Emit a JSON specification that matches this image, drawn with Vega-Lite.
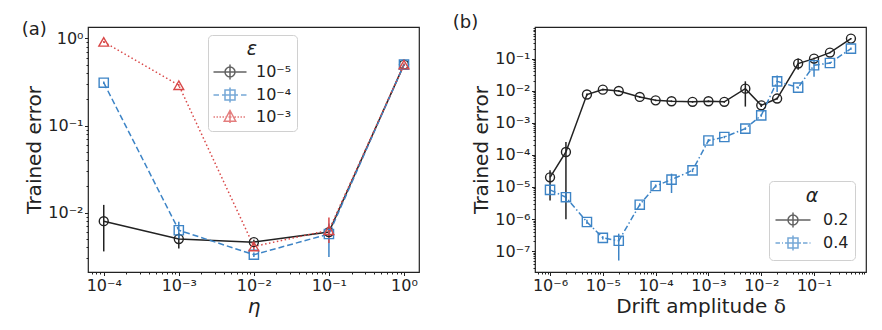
{
  "$schema": "https://vega.github.io/schema/vega-lite/v6.json",
  "padding": {"left": 21, "top": 13, "right": 2, "bottom": 2},
  "spacing": 32,
  "resolve": {"scale": {"color": "independent", "shape": "independent"}, "legend": {"color": "independent", "shape": "independent"}},
  "config": {
    "font": "DejaVu Sans",
    "view": {"stroke": "#222", "strokeWidth": 1.2},
    "axis": {"labelFontSize": 16, "titleFontSize": 20, "titleFontWeight": "normal", "labelColor": "#222", "titleColor": "#222", "tickColor": "#222", "labelPadding": 1.5, "titlePadding": 3, "grid": false, "domain": false, "labelOverlap": false, "labelFlush": false, "tickWidth": 1},
    "legend": {"labelFontSize": 16, "titleFontSize": 19, "titleFontStyle": "italic", "titleFontWeight": "normal", "labelColor": "#222", "titleColor": "#222", "strokeColor": "#d0d0d0", "cornerRadius": 4, "fillColor": "rgba(255,255,255,0.85)", "titleAnchor": "middle", "symbolStrokeWidth": 1.5, "symbolSize": 100, "symbolFillColor": "transparent"}
  },
  "hconcat": [
    {
      "width": 331,
      "height": 245,
      "title": {"text": "(a)", "anchor": "start", "frame": "bounds", "offset": -12, "fontSize": 18, "fontWeight": "normal", "color": "#222", "dx": -3},
      "data": {"values": [
        {"eta": 0.0001, "eps": "10⁻⁵", "y": 0.008, "lo": 0.0036, "hi": 0.0123},
        {"eta": 0.001, "eps": "10⁻⁵", "y": 0.005, "lo": 0.0039, "hi": 0.0058},
        {"eta": 0.01, "eps": "10⁻⁵", "y": 0.0046, "lo": 0.0043, "hi": 0.0049},
        {"eta": 0.1, "eps": "10⁻⁵", "y": 0.006, "lo": 0.0055, "hi": 0.0066},
        {"eta": 1, "eps": "10⁻⁵", "y": 0.5, "lo": 0.49, "hi": 0.51},
        {"eta": 0.0001, "eps": "10⁻⁴", "y": 0.31, "lo": 0.3, "hi": 0.32},
        {"eta": 0.001, "eps": "10⁻⁴", "y": 0.0063, "lo": 0.0051, "hi": 0.0079},
        {"eta": 0.01, "eps": "10⁻⁴", "y": 0.0033, "lo": 0.0031, "hi": 0.0035},
        {"eta": 0.1, "eps": "10⁻⁴", "y": 0.0057, "lo": 0.0031, "hi": 0.0075},
        {"eta": 1, "eps": "10⁻⁴", "y": 0.5, "lo": 0.49, "hi": 0.51},
        {"eta": 0.0001, "eps": "10⁻³", "y": 0.91, "lo": 0.89, "hi": 0.93},
        {"eta": 0.001, "eps": "10⁻³", "y": 0.29, "lo": 0.28, "hi": 0.3},
        {"eta": 0.01, "eps": "10⁻³", "y": 0.0041, "lo": 0.0037, "hi": 0.0045},
        {"eta": 0.1, "eps": "10⁻³", "y": 0.0063, "lo": 0.0045, "hi": 0.0088},
        {"eta": 1, "eps": "10⁻³", "y": 0.5, "lo": 0.49, "hi": 0.51}
      ]},
      "encoding": {
        "x": {"field": "eta", "type": "quantitative", "title": "η",
          "scale": {"type": "log", "domain": [0.0000617, 1.585], "nice": false},
          "axis": {
            "titleFontStyle": "italic",
            "values": [0.00007, 0.00008, 0.00009, 0.0001, 0.0002, 0.0003, 0.0004, 0.0005, 0.0006, 0.0007, 0.0008, 0.0009, 0.001, 0.002, 0.003, 0.004, 0.005, 0.006, 0.007, 0.008, 0.009, 0.01, 0.02, 0.03, 0.04, 0.05, 0.06, 0.07, 0.08, 0.09, 0.1, 0.2, 0.3, 0.4, 0.5, 0.6, 0.7, 0.8, 0.9, 1],
            "labelExpr": "abs(log(datum.value)/LN10 - round(log(datum.value)/LN10)) < 0.000001 ? '10' + ['⁰','⁻¹','⁻²','⁻³','⁻⁴','⁻⁵','⁻⁶','⁻⁷','⁻⁸'][-round(log(datum.value)/LN10)] : ''",
            "tickSize": {"condition": {"test": "abs(log(datum.value)/LN10 - round(log(datum.value)/LN10)) < 0.000001", "value": 3.5}, "value": 2}
          }
        },
        "y": {"field": "y", "type": "quantitative", "title": "Trained error",
          "scale": {"type": "log", "domain": [0.00209, 1.35], "nice": false},
          "axis": {
            "values": [0.003, 0.004, 0.005, 0.006, 0.007, 0.008, 0.009, 0.01, 0.02, 0.03, 0.04, 0.05, 0.06, 0.07, 0.08, 0.09, 0.1, 0.2, 0.3, 0.4, 0.5, 0.6, 0.7, 0.8, 0.9, 1],
            "labelExpr": "abs(log(datum.value)/LN10 - round(log(datum.value)/LN10)) < 0.000001 ? '10' + ['⁰','⁻¹','⁻²','⁻³','⁻⁴','⁻⁵','⁻⁶','⁻⁷','⁻⁸'][-round(log(datum.value)/LN10)] : ''",
            "tickSize": {"condition": {"test": "abs(log(datum.value)/LN10 - round(log(datum.value)/LN10)) < 0.000001", "value": 3.5}, "value": 2}
          }
        },
        "color": {"field": "eps", "type": "nominal", "title": "ε",
          "scale": {"domain": ["10⁻⁵", "10⁻⁴", "10⁻³"], "range": ["#222222", "#3d84c6", "#d94848"]},
          "legend": {"orient": "none", "legendX": 120, "legendY": 8, "padding": 5, "titlePadding": 5, "rowPadding": 1, "symbolOffset": 9, "labelOffset": 18}
        }
      },
      "layer": [
        {
          "transform": [{"filter": "false"}],
          "mark": {"type": "point", "filled": false},
          "encoding": {
            "shape": {"field": "eps", "type": "nominal", "title": "ε",
              "scale": {"domain": ["10⁻⁵", "10⁻⁴", "10⁻³"], "range": [
                "M-3.3,0H3.3M0,-1.5V1.5M1,0A1,1,0,1,0,-1,0A1,1,0,1,0,1,0",
                "M-3.3,0H-2.2M-1.6,0H1.6M2.2,0H3.3M0,-1.5V1.5M-1,-1H1V1H-1Z",
                "M-3.3,0h0.3M-2.7,0h0.3M-2.1,0h0.3M-1.5,0h0.3M-0.9,0h0.3M-0.3,0h0.6M0.9,0h0.3M1.5,0h0.3M2.1,0h0.3M2.7,0h0.3M0,-1.4V1.2M0,-1.3L1.15,0.85H-1.15Z"
              ]},
              "legend": {"orient": "none", "legendX": 120, "legendY": 8, "padding": 5, "titlePadding": 5, "rowPadding": 1, "symbolOffset": 9, "labelOffset": 18}
            }
          }
        },
        {"transform": [{"filter": "datum.eps == '10⁻⁵'"}], "mark": {"type": "line", "strokeWidth": 1.5}},
        {"transform": [{"filter": "datum.eps == '10⁻⁴'"}], "mark": {"type": "line", "strokeWidth": 1.5, "strokeDash": [6, 3]}},
        {"transform": [{"filter": "datum.eps == '10⁻³'"}], "mark": {"type": "line", "strokeWidth": 1.5, "strokeDash": [1.5, 2.5]}},
        {
          "mark": {"type": "rule", "strokeWidth": 1.5},
          "encoding": {
            "y": {"field": "lo", "type": "quantitative", "title": "Trained error"},
            "y2": {"field": "hi"}
          }
        },
        {"transform": [{"filter": "datum.eps == '10⁻⁵'"}], "mark": {"type": "point", "shape": "circle", "filled": false, "strokeWidth": 1.4, "size": 80, "opacity": 1}},
        {"transform": [{"filter": "datum.eps == '10⁻⁴'"}], "mark": {"type": "point", "shape": "square", "filled": false, "strokeWidth": 1.4, "size": 85, "opacity": 1}},
        {"transform": [{"filter": "datum.eps == '10⁻³'"}], "mark": {"type": "point", "shape": "triangle-up", "filled": false, "strokeWidth": 1.4, "size": 95, "opacity": 1}}
      ]
    },
    {
      "width": 331,
      "height": 245,
      "title": {"text": "(b)", "anchor": "start", "frame": "bounds", "offset": -12, "fontSize": 18, "fontWeight": "normal", "color": "#222", "dx": -19},
      "data": {"values": [
        {"d": 0.000001, "alpha": "0.2", "y": 0.00002, "lo": 0.0000038, "hi": 0.000033},
        {"d": 0.000002, "alpha": "0.2", "y": 0.000123, "lo": 0.00000098, "hi": 0.00025},
        {"d": 0.000005, "alpha": "0.2", "y": 0.0076, "lo": 0.007, "hi": 0.0082},
        {"d": 0.00001, "alpha": "0.2", "y": 0.0108, "lo": 0.0102, "hi": 0.0114},
        {"d": 0.00002, "alpha": "0.2", "y": 0.0098, "lo": 0.0093, "hi": 0.0103},
        {"d": 0.00005, "alpha": "0.2", "y": 0.0064, "lo": 0.006, "hi": 0.0068},
        {"d": 0.0001, "alpha": "0.2", "y": 0.005, "lo": 0.0047, "hi": 0.0053},
        {"d": 0.0002, "alpha": "0.2", "y": 0.0047, "lo": 0.0044, "hi": 0.005},
        {"d": 0.0005, "alpha": "0.2", "y": 0.0045, "lo": 0.0042, "hi": 0.0048},
        {"d": 0.001, "alpha": "0.2", "y": 0.0047, "lo": 0.0044, "hi": 0.005},
        {"d": 0.002, "alpha": "0.2", "y": 0.0045, "lo": 0.0042, "hi": 0.0048},
        {"d": 0.005, "alpha": "0.2", "y": 0.0116, "lo": 0.0032, "hi": 0.0196},
        {"d": 0.01, "alpha": "0.2", "y": 0.0035, "lo": 0.0031, "hi": 0.0039},
        {"d": 0.02, "alpha": "0.2", "y": 0.0057, "lo": 0.0053, "hi": 0.0061},
        {"d": 0.05, "alpha": "0.2", "y": 0.07, "lo": 0.045, "hi": 0.1},
        {"d": 0.1, "alpha": "0.2", "y": 0.1, "lo": 0.094, "hi": 0.106},
        {"d": 0.2, "alpha": "0.2", "y": 0.154, "lo": 0.146, "hi": 0.162},
        {"d": 0.5, "alpha": "0.2", "y": 0.42, "lo": 0.4, "hi": 0.44},
        {"d": 0.000001, "alpha": "0.4", "y": 0.0000081, "lo": 0.000006, "hi": 0.000011},
        {"d": 0.000002, "alpha": "0.4", "y": 0.0000048, "lo": 0.0000035, "hi": 0.0000065},
        {"d": 0.000005, "alpha": "0.4", "y": 0.00000081, "lo": 0.0000007, "hi": 0.00000095},
        {"d": 0.00001, "alpha": "0.4", "y": 0.00000026, "lo": 0.00000023, "hi": 0.00000029},
        {"d": 0.00002, "alpha": "0.4", "y": 0.00000021, "lo": 0.000000051, "hi": 0.00000035},
        {"d": 0.00005, "alpha": "0.4", "y": 0.0000028, "lo": 0.0000025, "hi": 0.0000031},
        {"d": 0.0001, "alpha": "0.4", "y": 0.0000107, "lo": 0.0000095, "hi": 0.000012},
        {"d": 0.0002, "alpha": "0.4", "y": 0.000017, "lo": 0.0000065, "hi": 0.000026},
        {"d": 0.0005, "alpha": "0.4", "y": 0.000033, "lo": 0.000029, "hi": 0.000037},
        {"d": 0.001, "alpha": "0.4", "y": 0.00028, "lo": 0.00025, "hi": 0.00031},
        {"d": 0.002, "alpha": "0.4", "y": 0.00036, "lo": 0.00033, "hi": 0.00039},
        {"d": 0.005, "alpha": "0.4", "y": 0.00066, "lo": 0.0006, "hi": 0.00072},
        {"d": 0.01, "alpha": "0.4", "y": 0.0017, "lo": 0.00155, "hi": 0.00185},
        {"d": 0.02, "alpha": "0.4", "y": 0.0196, "lo": 0.0091, "hi": 0.03},
        {"d": 0.05, "alpha": "0.4", "y": 0.0125, "lo": 0.0115, "hi": 0.0135},
        {"d": 0.1, "alpha": "0.4", "y": 0.062, "lo": 0.027, "hi": 0.089},
        {"d": 0.2, "alpha": "0.4", "y": 0.073, "lo": 0.068, "hi": 0.078},
        {"d": 0.5, "alpha": "0.4", "y": 0.205, "lo": 0.19, "hi": 0.22}
      ]},
      "encoding": {
        "x": {"field": "d", "type": "quantitative", "title": "Drift amplitude δ",
          "scale": {"type": "log", "domain": [0.000000519, 0.964], "nice": false},
          "axis": {
            "values": [0.0000006, 0.0000007, 0.0000008, 0.0000009, 0.000001, 0.000002, 0.000003, 0.000004, 0.000005, 0.000006, 0.000007, 0.000008, 0.000009, 0.00001, 0.00002, 0.00003, 0.00004, 0.00005, 0.00006, 0.00007, 0.00008, 0.00009, 0.0001, 0.0002, 0.0003, 0.0004, 0.0005, 0.0006, 0.0007, 0.0008, 0.0009, 0.001, 0.002, 0.003, 0.004, 0.005, 0.006, 0.007, 0.008, 0.009, 0.01, 0.02, 0.03, 0.04, 0.05, 0.06, 0.07, 0.08, 0.09, 0.1, 0.2, 0.3, 0.4, 0.5, 0.6, 0.7, 0.8, 0.9],
            "labelExpr": "abs(log(datum.value)/LN10 - round(log(datum.value)/LN10)) < 0.000001 ? '10' + ['⁰','⁻¹','⁻²','⁻³','⁻⁴','⁻⁵','⁻⁶','⁻⁷','⁻⁸'][-round(log(datum.value)/LN10)] : ''",
            "tickSize": {"condition": {"test": "abs(log(datum.value)/LN10 - round(log(datum.value)/LN10)) < 0.000001", "value": 3.5}, "value": 2}
          }
        },
        "y": {"field": "y", "type": "quantitative", "title": "Trained error",
          "scale": {"type": "log", "domain": [0.0000000224, 0.966], "nice": false},
          "axis": {
            "values": [0.00000003, 0.00000004, 0.00000005, 0.00000006, 0.00000007, 0.00000008, 0.00000009, 0.0000001, 0.0000002, 0.0000003, 0.0000004, 0.0000005, 0.0000006, 0.0000007, 0.0000008, 0.0000009, 0.000001, 0.000002, 0.000003, 0.000004, 0.000005, 0.000006, 0.000007, 0.000008, 0.000009, 0.00001, 0.00002, 0.00003, 0.00004, 0.00005, 0.00006, 0.00007, 0.00008, 0.00009, 0.0001, 0.0002, 0.0003, 0.0004, 0.0005, 0.0006, 0.0007, 0.0008, 0.0009, 0.001, 0.002, 0.003, 0.004, 0.005, 0.006, 0.007, 0.008, 0.009, 0.01, 0.02, 0.03, 0.04, 0.05, 0.06, 0.07, 0.08, 0.09, 0.1, 0.2, 0.3, 0.4, 0.5, 0.6, 0.7, 0.8, 0.9],
            "labelExpr": "abs(log(datum.value)/LN10 - round(log(datum.value)/LN10)) < 0.000001 ? '10' + ['⁰','⁻¹','⁻²','⁻³','⁻⁴','⁻⁵','⁻⁶','⁻⁷','⁻⁸'][-round(log(datum.value)/LN10)] : ''",
            "tickSize": {"condition": {"test": "abs(log(datum.value)/LN10 - round(log(datum.value)/LN10)) < 0.000001", "value": 3.5}, "value": 2}
          }
        },
        "color": {"field": "alpha", "type": "nominal", "title": "α",
          "scale": {"domain": ["0.2", "0.4"], "range": ["#222222", "#3d84c6"]},
          "legend": {"orient": "none", "legendX": 234, "legendY": 154, "padding": 6, "titlePadding": 6, "rowPadding": 1, "symbolOffset": 10, "labelOffset": 22}
        }
      },
      "layer": [
        {
          "transform": [{"filter": "false"}],
          "mark": {"type": "point", "filled": false},
          "encoding": {
            "shape": {"field": "alpha", "type": "nominal", "title": "α",
              "scale": {"domain": ["0.2", "0.4"], "range": [
                "M-3.5,0H3.5M0,-1.5V1.5M1,0A1,1,0,1,0,-1,0A1,1,0,1,0,1,0",
                "M-3.5,0H-2.6M-2.2,0H-2.0M-1.6,0H1.6M2.0,0H2.9M3.3,0H3.5M0,-1.5V1.5M-1,-1H1V1H-1Z"
              ]},
              "legend": {"orient": "none", "legendX": 234, "legendY": 154, "padding": 6, "titlePadding": 6, "rowPadding": 1, "symbolOffset": 10, "labelOffset": 22}
            }
          }
        },
        {"transform": [{"filter": "datum.alpha == '0.2'"}], "mark": {"type": "line", "strokeWidth": 1.5}},
        {"transform": [{"filter": "datum.alpha == '0.4'"}], "mark": {"type": "line", "strokeWidth": 1.5, "strokeDash": [6, 2.5, 1.5, 2.5]}},
        {
          "mark": {"type": "rule", "strokeWidth": 1.5},
          "encoding": {
            "y": {"field": "lo", "type": "quantitative", "title": "Trained error"},
            "y2": {"field": "hi"}
          }
        },
        {"transform": [{"filter": "datum.alpha == '0.2'"}], "mark": {"type": "point", "shape": "circle", "filled": false, "strokeWidth": 1.4, "size": 80, "opacity": 1}},
        {"transform": [{"filter": "datum.alpha == '0.4'"}], "mark": {"type": "point", "shape": "square", "filled": false, "strokeWidth": 1.4, "size": 85, "opacity": 1}}
      ]
    }
  ]
}
